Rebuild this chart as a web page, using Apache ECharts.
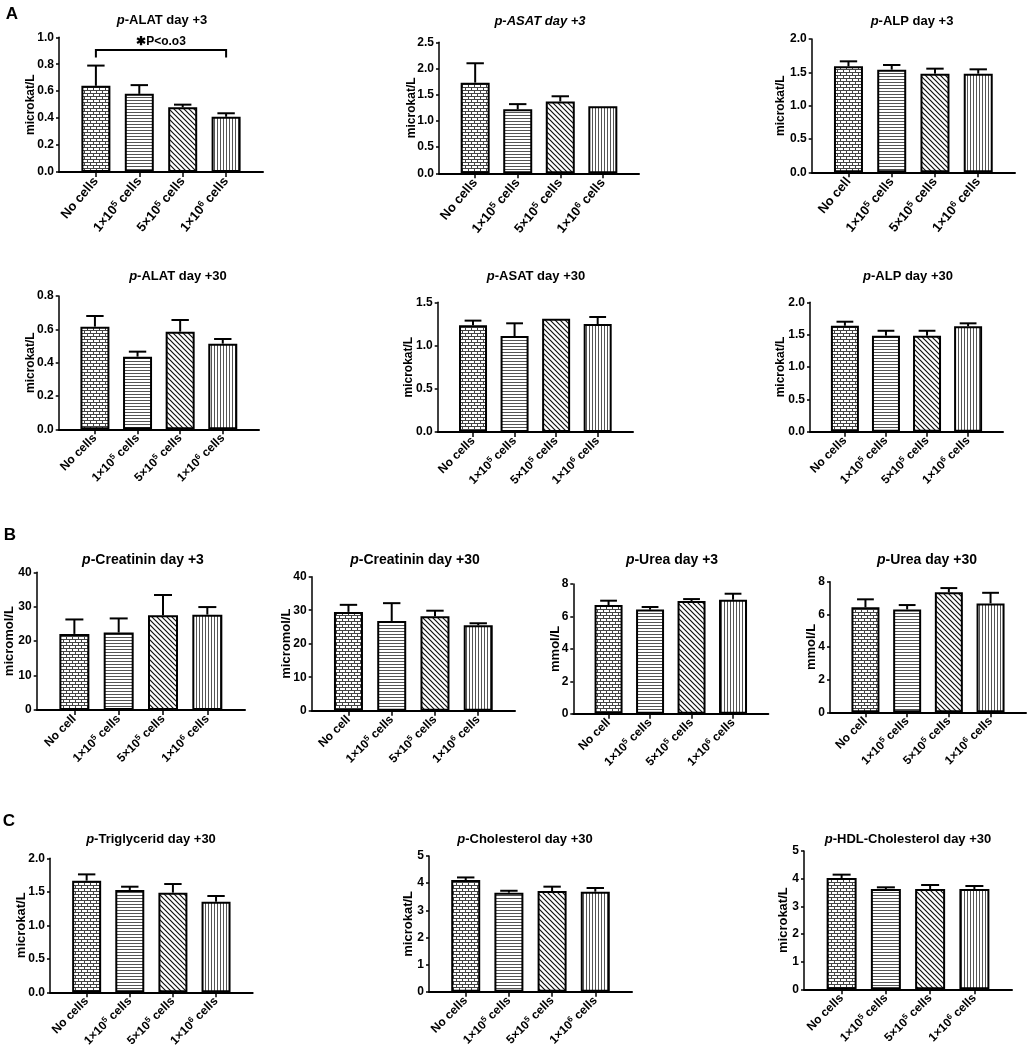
<!DOCTYPE html>
<html>
<head>
<meta charset="utf-8">
<script src="https://cdn.jsdelivr.net/npm/echarts@6.0.0/dist/echarts.min.js"></script>
<style>
html, body { margin: 0; padding: 0; background: #fff; }
#chart { width: 1030px; height: 1056px; }
</style>
</head>
<body>
<div id="chart"></div>
<script>
// 组别
const groupsCells = ['No cells', '1×10^5 cells', '5×10^5 cells', '1×10^6 cells'];
const groupsCell = ['No cell', '1×10^5 cells', '5×10^5 cells', '1×10^6 cells'];

// 均值与误差 (SEM)
const alat3 = [0.64, 0.58, 0.48, 0.41];
const alat3Err = [0.15, 0.065, 0.02, 0.026];
const asat3 = [1.73, 1.22, 1.37, 1.28];
const asat3Err = [0.37, 0.10, 0.10, 0];
const alp3 = [1.59, 1.54, 1.48, 1.48];
const alp3Err = [0.075, 0.07, 0.075, 0.065];
const alat30 = [0.616, 0.436, 0.586, 0.514];
const alat30Err = [0.064, 0.03, 0.07, 0.028];
const asat30 = [1.234, 1.11, 1.311, 1.249];
const asat30Err = [0.054, 0.147, 0, 0.081];
const alp30 = [1.638, 1.484, 1.484, 1.629];
const alp30Err = [0.062, 0.076, 0.076, 0.046];
const creat3 = [22.1, 22.5, 27.5, 27.7];
const creat3Err = [4.2, 4.1, 5.9, 2.2];
const creat30 = [29.5, 26.8, 28.2, 25.5];
const creat30Err = [2.1, 5.3, 1.65, 0.6];
const urea3 = [6.70, 6.42, 6.95, 7.03];
const urea3Err = [0.27, 0.16, 0.12, 0.37];
const urea30 = [6.43, 6.30, 7.35, 6.67];
const urea30Err = [0.49, 0.27, 0.26, 0.65];
const trig30 = [1.666, 1.527, 1.487, 1.352];
const trig30Err = [0.094, 0.049, 0.129, 0.085];
const chol30 = [4.115, 3.649, 3.71, 3.685];
const chol30Err = [0.095, 0.07, 0.16, 0.135];
const hdl30 = [4.024, 3.627, 3.627, 3.627];
const hdl30Err = [0.121, 0.06, 0.143, 0.108];

// 显著性标注 (A 第一幅)
const sigText = '✱P<o.o3';
const sigBracket = [0, 3, 0.906, 0.85];
const sigLabelY = 0.967;

const FONT = '"Liberation Sans", Arial, sans-serif';

// 各子图: 数据 + 布局 [左, 右, 顶(最大值), 底(0)]
const panels = [
    { title: 'p-ALAT day +3', cats: groupsCells, vals: alat3, errs: alat3Err, max: 1.0, step: 0.2, dec: 1, unit: 'microkat/L', box: [59, 263, 37.3, 172], tx: 162, ty: 21, nameOff: 28, nameFs: 12, sig: true, big: true },
    { title: 'p-ASAT day +3', italicAll: true, cats: groupsCells, vals: asat3, errs: asat3Err, max: 2.5, step: 0.5, dec: 1, unit: 'microkat/L', box: [439, 639, 42.3, 173.3], tx: 540, ty: 22, nameOff: 27, nameFs: 12, big: true },
    { title: 'p-ALP day +3', cats: groupsCell, vals: alp3, errs: alp3Err, max: 2.0, step: 0.5, dec: 1, unit: 'microkat/L', box: [811.7, 1015, 39, 172.3], tx: 912, ty: 22, nameOff: 31, nameFs: 12, big: true },
    { title: 'p-ALAT day +30', cats: groupsCells, vals: alat30, errs: alat30Err, max: 0.8, step: 0.2, dec: 1, unit: 'microkat/L', box: [58.7, 259, 296, 429.3], tx: 178, ty: 277, nameOff: 28, nameFs: 12 },
    { title: 'p-ASAT day +30', cats: groupsCells, vals: asat30, errs: asat30Err, max: 1.5, step: 0.5, dec: 1, unit: 'microkat/L', box: [437.7, 633, 302.3, 432], tx: 536, ty: 277, nameOff: 29, nameFs: 12 },
    { title: 'p-ALP day +30', cats: groupsCells, vals: alp30, errs: alp30Err, max: 2.0, step: 0.5, dec: 1, unit: 'microkat/L', box: [810, 1003, 302.3, 431.7], tx: 908, ty: 277, nameOff: 29, nameFs: 12 },
    { title: 'p-Creatinin day +3', cats: groupsCell, vals: creat3, errs: creat3Err, max: 40, step: 10, dec: 0, unit: 'micromol/L', box: [36.7, 245, 572.3, 710], tx: 143, ty: 561, nameOff: 27, nameFs: 13, tfs: 14 },
    { title: 'p-Creatinin day +30', cats: groupsCell, vals: creat30, errs: creat30Err, max: 40, step: 10, dec: 0, unit: 'micromol/L', box: [311.7, 515, 576.7, 710.7], tx: 415, ty: 561, nameOff: 25, nameFs: 13, tfs: 14 },
    { title: 'p-Urea day +3', cats: groupsCell, vals: urea3, errs: urea3Err, max: 8, step: 2, dec: 0, unit: 'mmol/L', box: [573.3, 768.3, 584, 713.7], tx: 672, ty: 561, nameOff: 18, nameFs: 13, tfs: 14 },
    { title: 'p-Urea day +30', cats: groupsCell, vals: urea30, errs: urea30Err, max: 8, step: 2, dec: 0, unit: 'mmol/L', box: [830, 1026, 581.7, 712.3], tx: 927, ty: 561, nameOff: 19, nameFs: 13, tfs: 14 },
    { title: 'p-Triglycerid day +30', cats: groupsCells, vals: trig30, errs: trig30Err, max: 2.0, step: 0.5, dec: 1, unit: 'microkat/L', box: [50, 252.7, 858.3, 992.3], tx: 151, ty: 840, nameOff: 29, nameFs: 13 },
    { title: 'p-Cholesterol day +30', cats: groupsCells, vals: chol30, errs: chol30Err, max: 5, step: 1, dec: 0, unit: 'microkat/L', box: [429, 632, 856, 991.7], tx: 525, ty: 840, nameOff: 21, nameFs: 13 },
    { title: 'p-HDL-Cholesterol day +30', cats: groupsCells, vals: hdl30, errs: hdl30Err, max: 5, step: 1, dec: 0, unit: 'microkat/L', box: [804, 1012, 851, 989.3], tx: 908, ty: 840, nameOff: 21, nameFs: 13 }
];

const letters = [['A', 12, 15], ['B', 10, 536], ['C', 9, 822]];

// 填充图案
function makeTile(w, h, color, lw, draw) {
    const c = document.createElement('canvas');
    c.width = w;
    c.height = h;
    const ctx = c.getContext('2d');
    ctx.fillStyle = '#fff';
    ctx.fillRect(0, 0, w, h);
    ctx.strokeStyle = color;
    ctx.lineWidth = lw;
    ctx.beginPath();
    draw(ctx);
    ctx.stroke();
    return { image: c, repeat: 'repeat' };
}

const patterns = [
    // 砖纹
    makeTile(6, 6, '#444', 1, ctx => {
        ctx.moveTo(0, 0.5); ctx.lineTo(6, 0.5);
        ctx.moveTo(0, 3.5); ctx.lineTo(6, 3.5);
        ctx.moveTo(0.5, 0.5); ctx.lineTo(0.5, 3.5);
        ctx.moveTo(3.5, 3.5); ctx.lineTo(3.5, 6);
    }),
    // 横线
    makeTile(4, 3, '#555', 1, ctx => {
        ctx.moveTo(0, 1.5); ctx.lineTo(4, 1.5);
    }),
    // 斜线
    makeTile(5, 5, '#111', 1.2, ctx => {
        ctx.moveTo(-1, -1); ctx.lineTo(6, 6);
        ctx.moveTo(-1, 4); ctx.lineTo(1, 6);
        ctx.moveTo(4, -1); ctx.lineTo(6, 1);
    }),
    // 竖线
    makeTile(3, 4, '#555', 1, ctx => {
        ctx.moveTo(1.5, 0); ctx.lineTo(1.5, 4);
    })
];

function richCat(size) {
    return {
        a: { fontSize: size, fontWeight: 'bold', color: '#000', fontFamily: FONT, lineHeight: size + 2 },
        s: { fontSize: size - 4, fontWeight: 'bold', color: '#000', fontFamily: FONT, lineHeight: size - 4, verticalAlign: 'top' }
    };
}

function fmtCat(name) {
    const m = name.match(/^(.*)\^(\d)(.*)$/);
    if (!m) return '{a|' + name + '}';
    return '{a|' + m[1] + '}{s|' + m[2] + '}{a|' + m[3] + '}';
}

function errRender(capW) {
    return (params, api) => {
        const e = api.value(2);
        if (!e) return null;
        const p0 = api.coord([api.value(0), api.value(1)]);
        const p1 = api.coord([api.value(0), api.value(1) + e]);
        const style = { stroke: '#000', lineWidth: 2 };
        return {
            type: 'group',
            children: [
                { type: 'line', shape: { x1: p0[0], y1: p0[1], x2: p1[0], y2: p1[1] }, style },
                { type: 'line', shape: { x1: p1[0] - capW / 2, y1: p1[1], x2: p1[0] + capW / 2, y2: p1[1] }, style }
            ]
        };
    };
}

const option = {
    animation: false,
    backgroundColor: '#fff',
    textStyle: { fontFamily: FONT },
    title: [],
    grid: [],
    xAxis: [],
    yAxis: [],
    series: []
};

letters.forEach(([t, x, y]) => {
    option.title.push({
        text: t, left: x, top: y - 9, textAlign: 'center', padding: 0,
        textStyle: { fontSize: 17, fontWeight: 'bold', color: '#000', fontFamily: FONT }
    });
});

panels.forEach((p, k) => {
    const [L, R, T, B] = p.box;
    const band = (R - L) / 4.7;
    const barW = Math.round(band * 0.67);
    const tfs = p.tfs || 13;
    const fs = p.fs || 12;
    const catFs = p.big ? 13 : 12;

    option.title.push({
        text: p.italicAll ? '{i|' + p.title + '}' : '{i|p}' + p.title.slice(1),
        left: p.tx, top: p.ty - tfs / 2 - 1, textAlign: 'center', padding: 0,
        textStyle: {
            fontSize: tfs, fontWeight: 'bold', color: '#000', fontFamily: FONT,
            rich: { i: { fontSize: tfs, fontWeight: 'bold', fontStyle: 'italic', color: '#000', fontFamily: FONT } }
        }
    });

    option.grid.push({ left: L, top: T, width: R - L, height: B - T, containLabel: false, outerBoundsMode: 'none' });

    option.xAxis.push({
        type: 'value', gridIndex: k, min: -0.85, max: 3.85,
        axisLine: { show: true, onZero: false, lineStyle: { color: '#000', width: 2 } },
        axisTick: { show: true, customValues: [0, 1, 2, 3], length: 5, lineStyle: { color: '#000', width: 1.5 } },
        axisLabel: {
            customValues: [0, 1, 2, 3], rotate: p.big ? 50 : 45, margin: 7,
            formatter: v => fmtCat(p.cats[Math.round(v)]),
            rich: richCat(catFs)
        },
        splitLine: { show: false }
    });

    option.yAxis.push({
        type: 'value', gridIndex: k, min: 0, max: p.max, interval: p.step,
        axisLine: { show: true, onZero: false, lineStyle: { color: '#000', width: 1.5 } },
        axisTick: { show: true, length: 3, lineStyle: { color: '#000', width: 1.5 } },
        axisLabel: {
            margin: 5, color: '#000', fontWeight: 'bold', fontSize: fs, fontFamily: FONT,
            formatter: v => v.toFixed(p.dec)
        },
        splitLine: { show: false },
        name: p.unit, nameLocation: 'middle', nameGap: p.nameOff - p.nameFs / 2, nameRotate: 90,
        nameMoveOverlap: false,
        nameTextStyle: { color: '#000', fontWeight: 'bold', fontSize: p.nameFs, fontFamily: FONT }
    });

    option.series.push({
        type: 'bar', xAxisIndex: k, yAxisIndex: k, barWidth: barW, silent: true, z: 2,
        itemStyle: { borderColor: '#000', borderWidth: 2 },
        data: p.vals.map((v, i) => ({ value: [i, v], itemStyle: { color: patterns[i] } }))
    });

    option.series.push({
        type: 'custom', xAxisIndex: k, yAxisIndex: k, silent: true, z: 3,
        encode: { x: 0, y: 1 },
        data: p.vals.map((v, i) => [i, v, p.errs[i]]),
        renderItem: errRender(barW * 0.6)
    });

    if (p.sig) {
        option.series.push({
            type: 'custom', xAxisIndex: k, yAxisIndex: k, silent: true, z: 4, clip: false,
            encode: { x: 0, y: 2 },
            data: [sigBracket],
            renderItem: (params, api) => {
                const a = api.coord([api.value(0), api.value(3)]);
                const b = api.coord([api.value(0), api.value(2)]);
                const c = api.coord([api.value(1), api.value(2)]);
                const d = api.coord([api.value(1), api.value(3)]);
                const t = api.coord([(api.value(0) + api.value(1)) / 2, sigLabelY]);
                return {
                    type: 'group',
                    children: [
                        { type: 'polyline', shape: { points: [a, b, c, d] }, style: { stroke: '#000', lineWidth: 2, fill: null } },
                        { type: 'text', x: t[0], y: t[1], style: { text: sigText, align: 'center', verticalAlign: 'middle', font: 'bold 12px ' + FONT, fill: '#000' } }
                    ]
                };
            }
        });
    }
});

const chart = echarts.init(document.getElementById('chart'));
chart.setOption(option);
</script>
</body>
</html>
